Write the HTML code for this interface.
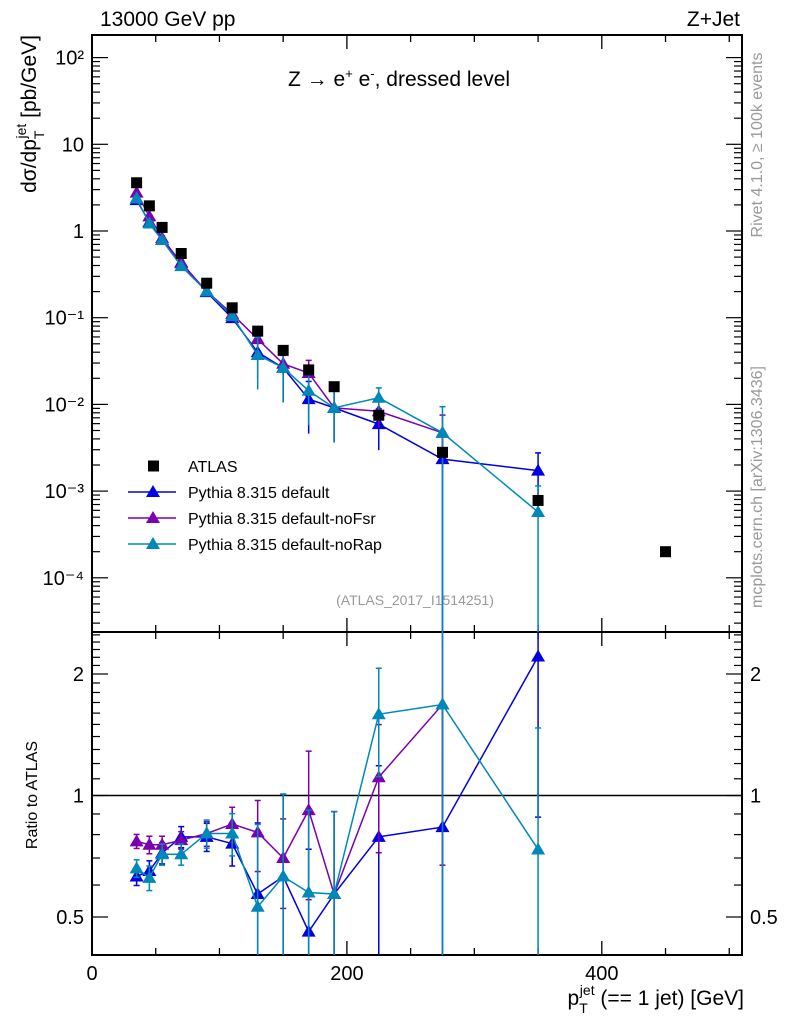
<!DOCTYPE html>
<html><head><meta charset="utf-8"><style>
html,body{margin:0;padding:0;background:#fff;width:786px;height:1024px;overflow:hidden;}
svg{display:block;font-family:"Liberation Sans","DejaVu Sans",sans-serif;}
</style></head><body>
<svg id="c" width="786" height="1024" viewBox="0 0 786 1024" xmlns="http://www.w3.org/2000/svg">
<g id="g"></g>
</svg>
<script>
const categories=[35,45,55,70,90,110,130,150,170,190,225,275,350,450];
const atlasValues=[3.6,1.95,1.1,0.55,0.25,0.13,0.07,0.042,0.025,0.016,0.0075,0.0028,0.00078,0.0002];
const ratioDefault=[0.63,0.65,0.72,0.79,0.79,0.76,0.57,0.63,0.46,0.57,0.79,0.835,2.21];
const ratioNoFsr=[0.77,0.755,0.755,0.775,0.805,0.85,0.81,0.70,0.92,0.57,1.11,1.68];
const ratioNoRap=[0.66,0.625,0.715,0.715,0.805,0.805,0.53,0.63,0.575,0.57,1.59,1.68,0.735];
const errDefault=[0.05,0.06,0.06,0.06,0.08,0.12,0.5,0.6,0.6,0.6,0.5,1,0.6];
const errNoFsr=[0.04,0.05,0.05,0.05,0.07,0.1,0.2,0.25,0.4,0.6,0.35,0.6];
const errNoRap=[0.05,0.07,0.06,0.06,0.08,0.12,0.6,0.6,0.6,0.6,0.3,1,1];
const xTicks=[0,200,400];
const mainTickExp=[-4,-3,-2,-1,0,1,2];
const mainTickLabels=["10\u207B\u2074","10\u207B\u00B3","10\u207B\u00B2","10\u207B\u00B9","1","10","10\u00B2"];
const ratioTicks=[0.5,1,2];

const L=92,R=742,T=35,MB=632,B=955;
const NS="http://www.w3.org/2000/svg";
const g=document.getElementById('g');
function X(v){return L+(v)*(R-L)/510;}
function YM(v){return 231-Math.log10(v)*86.7;}
function YR(v){return 795.5-Math.log2(v)*121.5;}
function el(t,a,p){const e=document.createElementNS(NS,t);for(const k in a)e.setAttribute(k,a[k]);(p||g).appendChild(e);return e;}
function txt(s,a){const e=el('text',a);e.textContent=s;return e;}

const defs=el('defs',{});
const c1=el('clipPath',{id:'cm'},defs);el('rect',{x:L,y:T,width:R-L,height:MB-T},c1);
const c2=el('clipPath',{id:'cr'},defs);el('rect',{x:L,y:MB,width:R-L,height:B-MB},c2);

let f=el('rect',{x:L,y:T,width:R-L,height:MB-T,fill:'none',stroke:'#000','stroke-width':2});

f=el('rect',{x:L,y:MB,width:R-L,height:B-MB,fill:'none',stroke:'#000','stroke-width':2});


for(let v=0;v<=500;v+=50){
  const major=xTicks.includes(v);const len=major?14:7;
  for(const [y0,dir] of [[T,1],[MB,-1],[MB,1],[B,-1]]){
    el('line',{x1:X(v),x2:X(v),y1:y0,y2:y0+dir*len,stroke:'#000','stroke-width':1.3});
  }
}
xTicks.forEach(v=>{const t=txt(String(v),{x:X(v),y:980,'font-size':20,'text-anchor':'middle'});
});

for(let e=-5;e<=2;e++){
  for(let m=1;m<10;m++){
    const v=m*Math.pow(10,e);const y=YM(v);if(y<T||y>MB)continue;
    const len=m==1?16:8;
    el('line',{x1:L,x2:L+len,y1:y,y2:y,stroke:'#000','stroke-width':1.2});
    el('line',{x1:R,x2:R-len,y1:y,y2:y,stroke:'#000','stroke-width':1.2});
  }
}
mainTickExp.forEach((e,i)=>{const t=txt(mainTickLabels[i],{x:L-8,y:YM(Math.pow(10,e))+7,'font-size':20,'text-anchor':'end'});
});

for(let v=0.4;v<=2.55;v+=0.1){
  const y=YR(v);if(y<MB||y>B)continue;
  const major=ratioTicks.some(r=>Math.abs(r-v)<1e-6);const len=major?16:8;
  el('line',{x1:L,x2:L+len,y1:y,y2:y,stroke:'#000','stroke-width':1.2});
  el('line',{x1:R,x2:R-len,y1:y,y2:y,stroke:'#000','stroke-width':1.2});
}
ratioTicks.forEach(v=>{
  let t=txt(String(v),{x:L-8,y:YR(v)+7,'font-size':20,'text-anchor':'end'});
  
  t=txt(String(v),{x:R+8,y:YR(v)+7,'font-size':20,'text-anchor':'start'});
  
});
el('line',{x1:L,x2:R,y1:YR(1),y2:YR(1),stroke:'#000','stroke-width':1.5});

const series=[
 {name:'default',color:'#0000e0',ratio:ratioDefault,err:errDefault},
 {name:'noFsr',color:'#7a00b0',ratio:ratioNoFsr,err:errNoFsr},
 {name:'noRap',color:'#0088b8',ratio:ratioNoRap,err:errNoRap}];
function tri(x,y,c,p,name){const s=7;const e=el('polygon',{points:`${x},${y-s} ${x-s},${y+5} ${x+s},${y+5}`,fill:c},p);
 }
const gm=el('g',{'clip-path':'url(#cm)'});
const gr=el('g',{'clip-path':'url(#cr)'});
series.forEach(s=>{
  const n=s.ratio.length;
  const mv=s.ratio.map((r,i)=>r*atlasValues[i]);
  el('polyline',{points:mv.map((v,i)=>X(categories[i])+','+YM(v)).join(' '),fill:'none',stroke:s.color,'stroke-width':1.5},gm);
  el('polyline',{points:s.ratio.map((v,i)=>X(categories[i])+','+YR(v)).join(' '),fill:'none',stroke:s.color,'stroke-width':1.5},gr);
  for(let i=0;i<n;i++){
    const x=X(categories[i]);
    const lo=Math.max(mv[i]*(1-s.err[i]),1e-9),hi=mv[i]*(1+s.err[i]);
    el('line',{x1:x,x2:x,y1:YM(lo),y2:YM(hi),stroke:s.color,'stroke-width':1.5},gm);
    el('line',{x1:x-3,x2:x+3,y1:YM(hi),y2:YM(hi),stroke:s.color,'stroke-width':1.5},gm);
    const rlo=Math.max(s.ratio[i]*(1-s.err[i]),1e-3),rhi=s.ratio[i]*(1+s.err[i]);
    el('line',{x1:x,x2:x,y1:YR(rlo),y2:YR(rhi),stroke:s.color,'stroke-width':1.5},gr);
    el('line',{x1:x-3,x2:x+3,y1:YR(rhi),y2:YR(rhi),stroke:s.color,'stroke-width':1.5},gr);
    el('line',{x1:x-3,x2:x+3,y1:YR(rlo),y2:YR(rlo),stroke:s.color,'stroke-width':1.5},gr);
    tri(x,YM(mv[i]),s.color,gm,'marker-'+s.name);
    tri(x,YR(s.ratio[i]),s.color,gr,'ratio-marker-'+s.name);
  }
});
atlasValues.forEach((v,i)=>{
  const r=el('rect',{x:X(categories[i])-5.5,y:YM(v)-5.5,width:11,height:11,fill:'#000'},gm);
  
});

const leg=[['ATLAS','#000','sq'],['Pythia 8.315 default','#0000e0'],['Pythia 8.315 default-noFsr','#7a00b0'],['Pythia 8.315 default-noRap','#0088b8']];
leg.forEach((l,i)=>{
  const y=466+i*26;
  if(l[2]){el('rect',{x:148,y:y-5.5,width:11,height:11,fill:'#000'});}
  else{el('line',{x1:128,x2:176,y1:y,y2:y,stroke:l[1],'stroke-width':1.5});tri(153,y,l[1],g,'legend-marker');}
  const t=txt(l[0],{x:188,y:y+6,'font-size':16});
  
});

let t;
t=txt('13000 GeV pp',{x:100,y:26,'font-size':21});
t=txt('Z+Jet',{x:740,y:26,'font-size':21,'text-anchor':'end'});
t=el('text',{x:288,y:86,'font-size':21});t.innerHTML='Z \u2192  e<tspan dy="-8" font-size="13">+</tspan><tspan dy="8"> e</tspan><tspan dy="-8" font-size="13">-</tspan><tspan dy="8">, dressed level</tspan>';

t=txt('(ATLAS_2017_I1514251)',{x:415,y:605,'font-size':14,fill:'#999','text-anchor':'middle'});
t=txt('Rivet 4.1.0, \u2265 100k events',{x:0,y:0,'font-size':16,fill:'#999','text-anchor':'middle',transform:'translate(762,145) rotate(-90)'});
t=txt('mcplots.cern.ch [arXiv:1306.3436]',{x:0,y:0,'font-size':16,fill:'#999','text-anchor':'middle',transform:'translate(762,487) rotate(-90)'});
t=el('text',{x:0,y:0,'font-size':21,transform:'translate(36,35) rotate(-90)','text-anchor':'end'});
t.innerHTML='d\u03C3/dp<tspan dy="8" font-size="14">T</tspan><tspan dy="-18" font-size="14" dx="-8">jet</tspan><tspan dy="10"> [pb/GeV]</tspan>';

t=txt('Ratio to ATLAS',{x:0,y:0,'font-size':16,'text-anchor':'middle',transform:'translate(37,795) rotate(-90)'});
t=el('text',{x:744,y:1005,'font-size':21,'text-anchor':'end'});
t.innerHTML='p<tspan dy="8" font-size="14">T</tspan><tspan dy="-18" font-size="14" dx="-8">jet</tspan><tspan dy="10"> (== 1 jet) [GeV]</tspan>';

</script>
</body></html>
